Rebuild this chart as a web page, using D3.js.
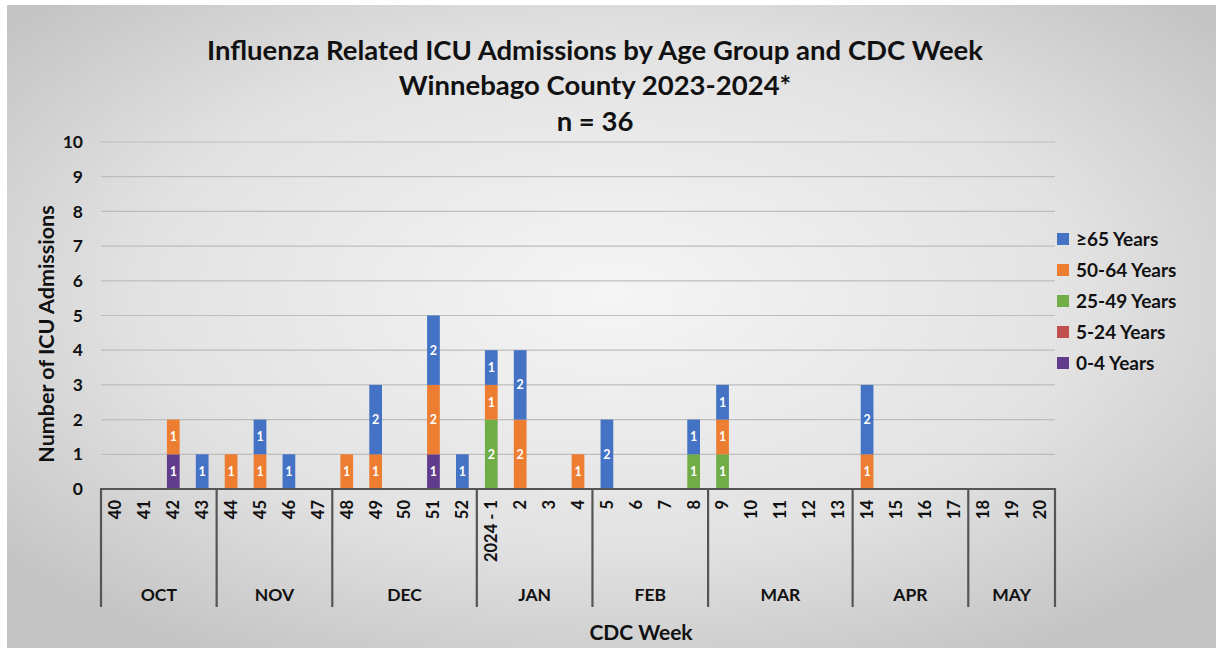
<!DOCTYPE html>
<html>
<head>
<meta charset="utf-8">
<script src="https://cdn.jsdelivr.net/npm/d3@7"></script>
<style>
  body { margin: 0; background: #fff; }
  svg text { font-family: Lato, "Open Sans", sans-serif; font-weight: bold; }
</style>
</head>
<body>
<svg id="chart" width="1223" height="651"></svg>
<script>
// CDC weeks, 2023-2024 season
const weeks = ["40","41","42","43","44","45","46","47","48","49","50","51","52",
  "2024 - 1","2","3","4","5","6","7","8","9","10","11","12","13",
  "14","15","16","17","18","19","20"];
const months = ["OCT","NOV","DEC","JAN","FEB","MAR","APR","MAY"];
const monthWeeks = [4, 4, 5, 4, 4, 5, 4, 3];

// counts per week, one array per age group
const age0_4   = [0,0,1,0,0,0,0,0,0,0,0,1,0, 0,0,0,0,0,0,0,0,0,0,0,0,0, 0,0,0,0,0,0,0];
const age5_24  = [0,0,0,0,0,0,0,0,0,0,0,0,0, 0,0,0,0,0,0,0,0,0,0,0,0,0, 0,0,0,0,0,0,0];
const age25_49 = [0,0,0,0,0,0,0,0,0,0,0,0,0, 2,0,0,0,0,0,0,1,1,0,0,0,0, 0,0,0,0,0,0,0];
const age50_64 = [0,0,1,0,1,1,0,0,1,1,0,2,0, 1,2,0,1,0,0,0,0,1,0,0,0,0, 1,0,0,0,0,0,0];
const age65    = [0,0,0,1,0,1,1,0,0,2,0,2,1, 1,2,0,0,2,0,0,1,1,0,0,0,0, 2,0,0,0,0,0,0];

const groups = ["0-4 Years","5-24 Years","25-49 Years","50-64 Years","≥65 Years"];
const groupColors = ["#613c8c","#c0504d","#70ad47","#ed7d31","#4472c4"];
const yTicks = [0,1,2,3,4,5,6,7,8,9,10];

const svg = d3.select("#chart");

// background panel with soft radial shading
const defs = svg.append("defs");
const grad = defs.append("radialGradient")
  .attr("id", "bg")
  .attr("cx", "50%").attr("cy", "45%").attr("r", "65%");
grad.append("stop").attr("offset", "0%").attr("stop-color", "#f5f5f5");
grad.append("stop").attr("offset", "60%").attr("stop-color", "#e2e2e2");
grad.append("stop").attr("offset", "100%").attr("stop-color", "#c4c4c4");

svg.append("rect")
  .attr("x", 7).attr("y", 5)
  .attr("width", 1209).attr("height", 643)
  .attr("fill", "url(#bg)");

const plotL = 101, plotR = 1055, plotT = 142, plotB = 489;

const x = d3.scaleBand()
  .domain(weeks)
  .range([plotL, plotR])
  .paddingInner(0.56)
  .paddingOuter(0.28);

const y = d3.scaleLinear()
  .domain([0, 10])
  .range([plotB, plotT]);

// gridlines
svg.append("g")
  .selectAll("line")
  .data(yTicks.filter(d => d > 0))
  .enter().append("line")
    .attr("x1", plotL).attr("x2", plotR)
    .attr("y1", d => y(d)).attr("y2", d => y(d))
    .attr("stroke", "#bdbdbd")
    .attr("stroke-width", 1.2);

// y tick labels
svg.append("g")
  .selectAll("text")
  .data(yTicks)
  .enter().append("text")
    .attr("x", 83)
    .attr("y", d => y(d))
    .attr("dy", "0.35em")
    .attr("text-anchor", "end")
    .attr("font-size", 17.5)
    .attr("fill", "#111")
    .text(d => d);

// stacked bars
const table = weeks.map((w, i) => ({
  week: w,
  "0-4 Years": age0_4[i],
  "5-24 Years": age5_24[i],
  "25-49 Years": age25_49[i],
  "50-64 Years": age50_64[i],
  "≥65 Years": age65[i]
}));

const stacked = d3.stack().keys(groups)(table);

const layers = svg.append("g")
  .selectAll("g")
  .data(stacked)
  .enter().append("g")
    .attr("fill", (d, i) => groupColors[i]);

layers.selectAll("rect")
  .data(d => d.filter(s => s[1] > s[0]))
  .enter().append("rect")
    .attr("x", d => x(d.data.week))
    .attr("width", x.bandwidth())
    .attr("y", d => y(d[1]))
    .attr("height", d => y(d[0]) - y(d[1]));

layers.selectAll("text")
  .data(d => d.filter(s => s[1] > s[0]))
  .enter().append("text")
    .attr("x", d => x(d.data.week) + x.bandwidth() / 2)
    .attr("y", d => (y(d[0]) + y(d[1])) / 2)
    .attr("dy", "0.36em")
    .attr("text-anchor", "middle")
    .attr("font-size", 12.5)
    .attr("fill", "#fff")
    .text(d => d[1] - d[0]);

// category axis: week labels and month groups
const axisColor = "#555";
svg.append("line")
  .attr("x1", plotL - 1).attr("x2", plotR + 1)
  .attr("y1", plotB).attr("y2", plotB)
  .attr("stroke", axisColor).attr("stroke-width", 2.2);

svg.append("g")
  .selectAll("text")
  .data(weeks)
  .enter().append("text")
    .attr("transform", d => `translate(${x(d) + x.bandwidth() / 2},500) rotate(-90)`)
    .attr("dy", "0.36em")
    .attr("text-anchor", "end")
    .attr("font-size", 16.5)
    .attr("fill", "#111")
    .text(d => d);

const step = x.step();
let cum = 0;
const bounds = [0];
monthWeeks.forEach(n => { cum += n; bounds.push(cum); });

svg.append("g")
  .selectAll("line")
  .data(bounds)
  .enter().append("line")
    .attr("x1", d => plotL + d * step).attr("x2", d => plotL + d * step)
    .attr("y1", plotB).attr("y2", 607)
    .attr("stroke", axisColor).attr("stroke-width", 2.2);

svg.append("g")
  .selectAll("text")
  .data(months)
  .enter().append("text")
    .attr("x", (d, i) => plotL + (bounds[i] + bounds[i + 1]) / 2 * step)
    .attr("y", 595)
    .attr("dy", "0.35em")
    .attr("text-anchor", "middle")
    .attr("font-size", 17.5)
    .attr("fill", "#111")
    .text(d => d);

// axis titles
svg.append("text")
  .attr("x", 641).attr("y", 633)
  .attr("dy", "0.35em")
  .attr("text-anchor", "middle")
  .attr("font-size", 21)
  .attr("fill", "#111")
  .text("CDC Week");

svg.append("text")
  .attr("transform", "translate(46,334) rotate(-90)")
  .attr("dy", "0.35em")
  .attr("text-anchor", "middle")
  .attr("font-size", 21.5)
  .attr("fill", "#111")
  .text("Number of ICU Admissions");

// title
const titleLines = ["Influenza Related ICU Admissions by Age Group and CDC Week",
  "Winnebago County 2023-2024*", "n = 36"];
svg.append("g")
  .selectAll("text")
  .data(titleLines)
  .enter().append("text")
    .attr("x", 595)
    .attr("y", (d, i) => 50 + i * 35.5)
    .attr("dy", "0.35em")
    .attr("text-anchor", "middle")
    .attr("font-size", 27.5)
    .attr("fill", "#111")
    .text(d => d);

// legend (top-down: oldest group first)
const legendItems = groups.map((g, i) => ({ name: g, color: groupColors[i] })).reverse();
const legend = svg.append("g")
  .selectAll("g")
  .data(legendItems)
  .enter().append("g")
    .attr("transform", (d, i) => `translate(1057,${239 + i * 31})`);

legend.append("rect")
  .attr("x", 0).attr("y", -6)
  .attr("width", 12).attr("height", 12)
  .attr("fill", d => d.color);

legend.append("text")
  .attr("x", 19)
  .attr("dy", "0.36em")
  .attr("font-size", 19)
  .attr("fill", "#111")
  .text(d => d.name);
</script>
</body>
</html>
